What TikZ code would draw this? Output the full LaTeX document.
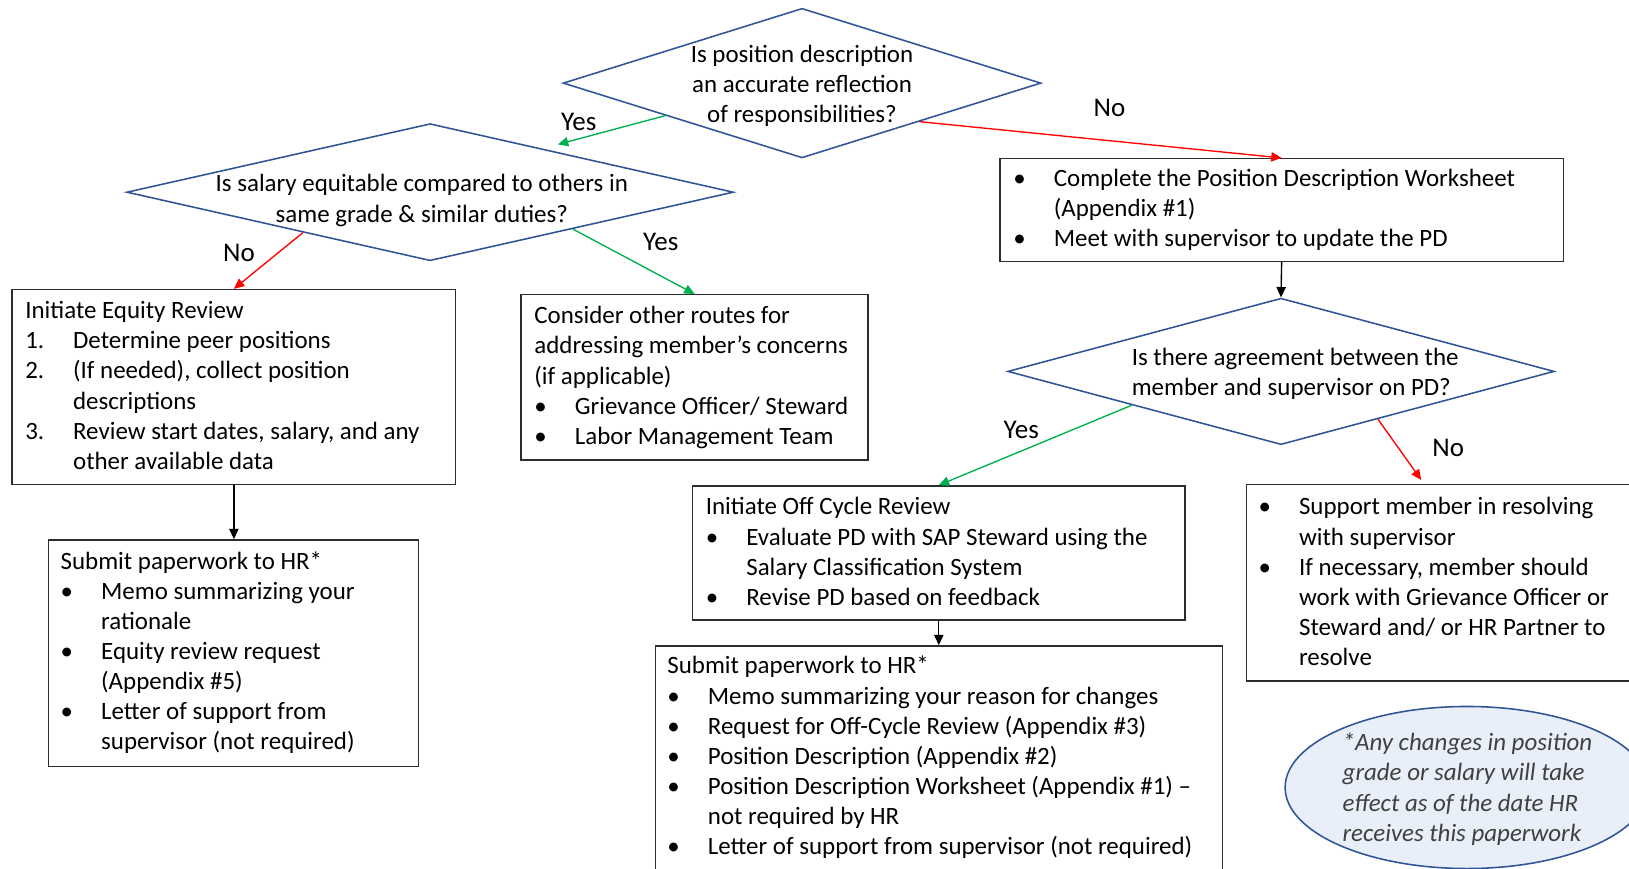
\documentclass[tikz,border=0pt]{standalone}
\usepackage{fontspec}
\setmainfont{Carlito}
\usetikzlibrary{shapes.geometric,arrows.meta,calc}
\definecolor{dblue}{RGB}{47,85,151}
\definecolor{ygreen}{RGB}{0,176,80}
\definecolor{nred}{RGB}{255,0,0}
\definecolor{efill}{RGB}{233,239,248}
\definecolor{egray}{RGB}{64,64,64}
\definecolor{bgray}{RGB}{45,45,45}
\newcommand{\bitem}[1]{\makebox[19.5pt][l]{\textbullet}#1}
\newcommand{\nitem}[2]{\makebox[23pt][l]{#1}#2}
\newcommand{\cont}[2][19.5pt]{\hspace*{#1}#2}
\begin{document}
\begin{tikzpicture}[x=0.5pt,y=-0.5pt,
  decision/.style={diamond, draw=dblue, line width=0.75pt, inner sep=0pt},
  procbox/.style={rectangle, draw=bgray, line width=0.65pt, inner sep=0pt, anchor=north west},
  txt/.style={inner sep=0pt, align=left, anchor=north west, font=\fontsize{12}{14.5}\selectfont},
  ctxt/.style={inner sep=0pt, align=center, anchor=north, font=\fontsize{12}{14.5}\selectfont},
  lbl/.style={inner sep=0pt, font=\fontsize{13}{15}\selectfont},
  tip/.style={-{Triangle[length=5pt,width=4.5pt]}},
  yesline/.style={draw=ygreen, line width=0.65pt, tip},
  noline/.style={draw=nred, line width=0.65pt, tip},
  flowline/.style={draw=black, line width=0.65pt, tip},
]
\clip (0,0) rectangle (1568,836);
\useasboundingbox (0,0) rectangle (1568,836);

% decisions
\node[decision, minimum width=230pt, minimum height=72pt] (d1) at (772,80) {};
\node[decision, minimum width=292pt, minimum height=66pt] (d2) at (414,185) {};
\node[decision, minimum width=263pt, minimum height=70.5pt] (d3) at (1233,357.5) {};
\node[ctxt] (d1t) at (772,39) {\strut Is position description\\an accurate reflection\\of responsibilities?};
\node[ctxt] (d2t) at (406,164) {\strut Is salary equitable compared to others in\\same grade \& similar duties?};
\node[txt] (d3t) at (1089,331) {\strut Is there agreement between the\\member and supervisor on PD?};

% boxes
\node[procbox, minimum width=271pt, minimum height=49.5pt] (comp) at (962,152) {};
\node[procbox, minimum width=213.5pt, minimum height=94pt] (eq) at (11,278) {};
\node[procbox, minimum width=167pt, minimum height=79.5pt] (cons) at (501,283) {};
\node[procbox, minimum width=178pt, minimum height=109pt] (subL) at (46,519) {};
\node[procbox, minimum width=237pt, minimum height=64.5pt] (off) at (666,467) {};
\node[procbox, minimum width=273pt, minimum height=115pt] (subM) at (630,621) {};
\node[procbox, minimum width=200pt, minimum height=94.5pt] (sup) at (1199,466) {};

\node[txt] (compt) at (975,159) {\strut\bitem{Complete the Position Description Worksheet}\\\cont{(Appendix \#1)}\\\bitem{Meet with supervisor to update the PD}};
\node[txt] (eqt) at (24,286) {\strut Initiate Equity Review\\\nitem{1.}{Determine peer positions}\\\nitem{2.}{(If needed), collect position}\\\cont[23pt]{descriptions}\\\nitem{3.}{Review start dates, salary, and any}\\\cont[23pt]{other available data}};
\node[txt] (const) at (514,291) {\strut Consider other routes for\\addressing member’s concerns\\(if applicable)\\\bitem{Grievance Officer/ Steward}\\\bitem{Labor Management Team}};
\node[txt] (subLt) at (58,527) {\strut Submit paperwork to HR*\\\bitem{Memo summarizing your}\\\cont{rationale}\\\bitem{Equity review request}\\\cont{(Appendix \#5)}\\\bitem{Letter of support from}\\\cont{supervisor (not required)}};
\node[txt] (offt) at (679,475) {\strut Initiate Off Cycle Review\\\bitem{Evaluate PD with SAP Steward using the}\\\cont{Salary Classification System}\\\bitem{Revise PD based on feedback}};
\node[txt] (subMt) at (642,628) {\strut Submit paperwork to HR*\\\bitem{Memo summarizing your reason for changes}\\\bitem{Request for Off-Cycle Review (Appendix \#3)}\\\bitem{Position Description (Appendix \#2)}\\\bitem{Position Description Worksheet (Appendix \#1) –}\\\cont{not required by HR}\\\bitem{Letter of support from supervisor (not required)}};
\node[txt] (supt) at (1211,475) {\strut\bitem{Support member in resolving}\\\cont{with supervisor}\\\bitem{If necessary, member should}\\\cont{work with Grievance Officer or}\\\cont{Steward and/ or HR Partner to}\\\cont{resolve}};

% note
\node[ellipse, draw=dblue, fill=efill, line width=0.75pt, minimum width=175pt, minimum height=78pt, inner sep=0pt] (note) at (1412,758) {};
\node[txt, text=egray, font=\fontsize{12}{14.5}\selectfont\itshape] (notet) at (1292,702) {\strut *Any changes in position\\grade or salary will take\\effect as of the date HR\\receives this paperwork};

% free ends
\coordinate (yes1end) at (537,139);
\coordinate (no3end) at (1368,462);

% connectors
\draw[yesline] ($(d1.west)!0.43!(d1.south)$) -- (yes1end);
\draw[noline] ($(d1.south)!0.49!(d1.east)$) -- (comp.north);
\draw[noline] ($(d2.west)!0.582!(d2.south)$) -- (eq.north);
\draw[yesline] ($(d2.south)!0.469!(d2.east)$) -- (cons.north);
\draw[flowline] (eq.south) -- (eq.south |- subL.north);
\draw[flowline] (comp.south) -- (d3.north);
\draw[yesline] ($(d3.west)!0.456!(d3.south)$) -- (off.north);
\draw[noline] ($(d3.south)!0.354!(d3.east)$) -- (no3end);
\draw[flowline] (off.south) -- (off.south |- subM.north);

% labels
\node[lbl] (l1) at (557,117) {Yes};
\node[lbl] (l2) at (1068,104) {No};
\node[lbl] (l3) at (230,243) {No};
\node[lbl] (l4) at (636,233) {Yes};
\node[lbl] (l5) at (983,414) {Yes};
\node[lbl] (l6) at (1394,431) {No};
\end{tikzpicture}
\end{document}
